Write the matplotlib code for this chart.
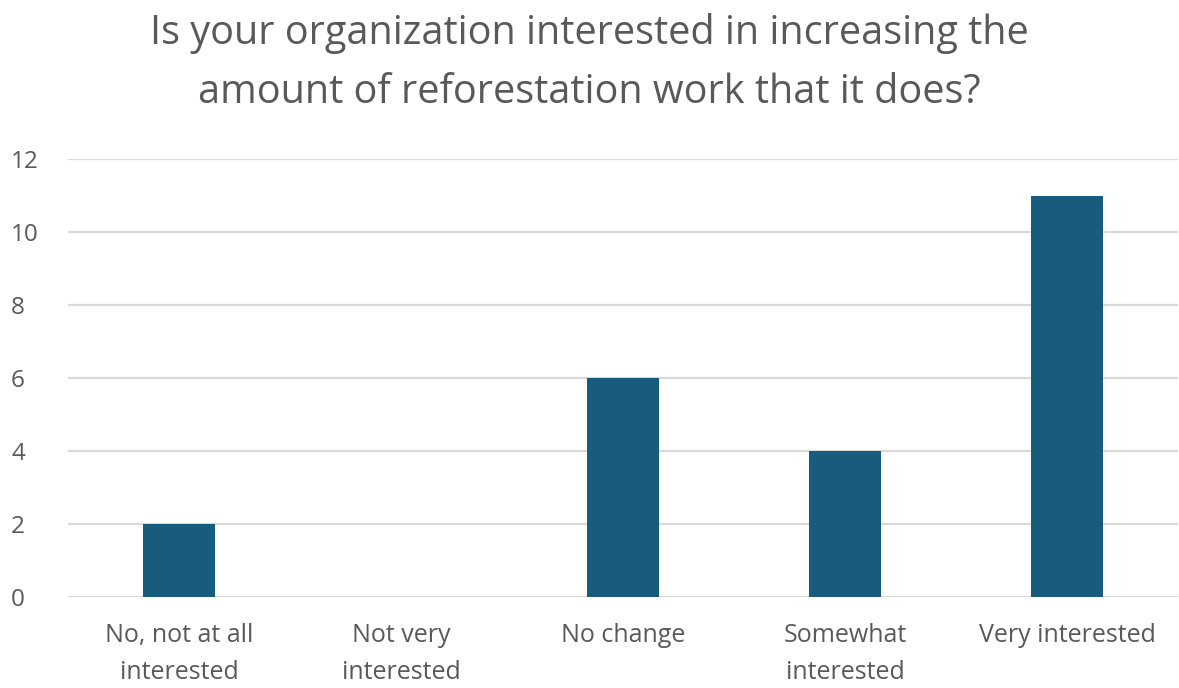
import matplotlib
matplotlib.use("Agg")
import matplotlib.pyplot as plt

categories = ["No, not at all\ninterested", "Not very\ninterested", "No change",
              "Somewhat\ninterested", "Very interested"]
counts = [2, 0, 6, 4, 11]
y_ticks = [0, 2, 4, 6, 8, 10, 12]
title = "Is your organization interested in increasing the\namount of reforestation work that it does?"

bar_color = "#175c7d"
text_color = "#595959"
grid_color = "#d9d9d9"

plt.rcParams["font.family"] = ["Open Sans", "DejaVu Sans"]

fig = plt.figure(figsize=(11.79, 6.88), dpi=100)
ax = fig.add_axes([68 / 1179, 1 - 597 / 688, (1178 - 68) / 1179, (597 - 159) / 688])

x = list(range(len(categories)))
ax.bar(x, counts, width=0.32, color=bar_color, zorder=3)

ax.set_xlim(-0.5, len(categories) - 0.5)
ax.set_ylim(0, 12)
ax.set_yticks(y_ticks)
ax.set_yticklabels([str(t) for t in y_ticks], fontsize=17.5, color=text_color)
ax.set_xticks(x)
ax.set_xticklabels(categories, fontsize=18, color=text_color, linespacing=1.6)
ax.tick_params(axis="both", length=0)
ax.tick_params(axis="x", pad=19)
ax.tick_params(axis="y", pad=41)
for lbl in ax.get_yticklabels():
    lbl.set_horizontalalignment("left")

ax.grid(axis="y", color=grid_color, linewidth=1.6, zorder=0)
ax.set_axisbelow(True)
for s in ax.spines.values():
    s.set_visible(False)

fig.text(0.5, 1 - 63 / 688, title, ha="center", va="center", fontsize=28.5,
         color=text_color, linespacing=1.6)

fig.savefig("out.png", dpi=100, facecolor="white")
